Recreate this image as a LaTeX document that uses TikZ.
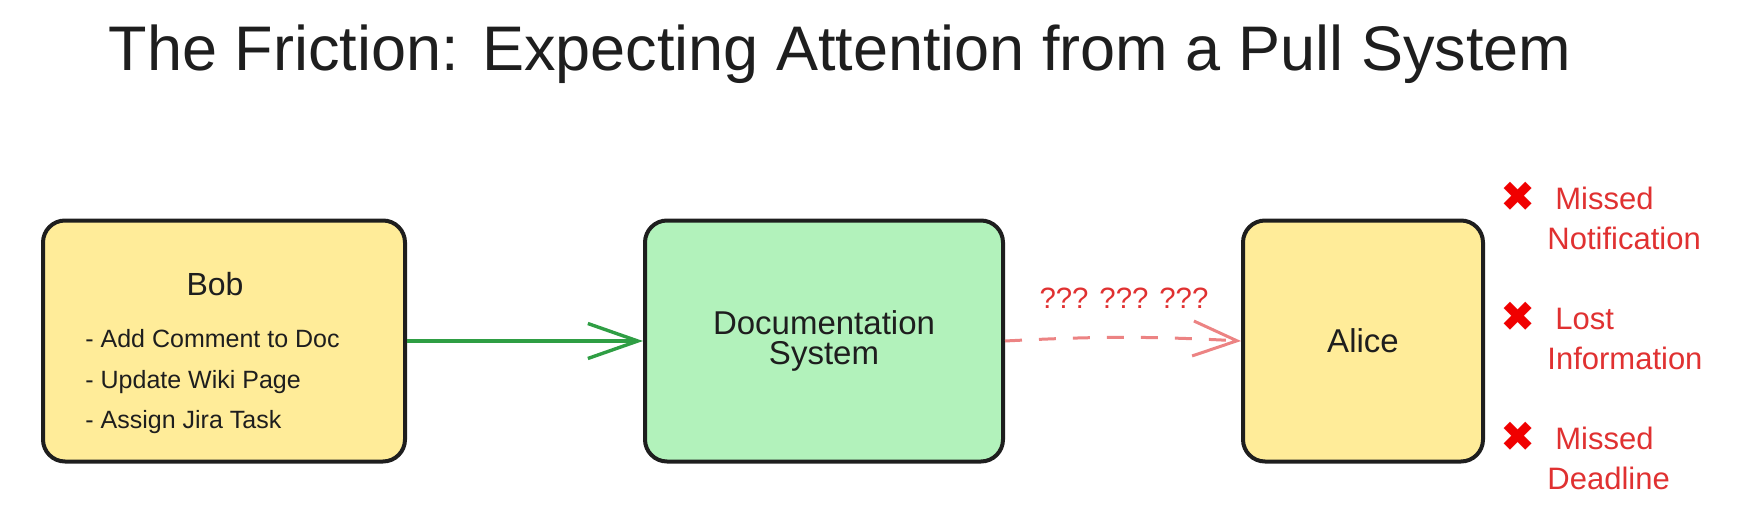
\documentclass[tikz,border=0pt]{standalone}
\usepackage{fontspec}
\setmainfont{Liberation Sans}
\newfontfamily\symbolfont{DejaVu Sans}
\usetikzlibrary{arrows.meta}
\definecolor{inkblack}{HTML}{1E1E1E}
\definecolor{noteyellow}{HTML}{FFEC99}
\definecolor{notegreen}{HTML}{B2F2BB}
\definecolor{pushgreen}{HTML}{2F9E44}
\definecolor{failred}{HTML}{E03131}
\definecolor{crossred}{HTML}{F00000}

\begin{document}
\begin{tikzpicture}[x=0.5pt, y=-0.5pt, inkblack,
  note/.style={draw=inkblack, line width=2pt, rounded corners=11pt, minimum height=120.5pt, align=center, font=\fontsize{16.5}{15}\selectfont},
  item/.style={anchor=base west, inner sep=0pt, font=\fontsize{12.5}{15}\selectfont},
  push/.style={-{Straight Barb[length=25pt, width=17.5pt]}, pushgreen, line width=1.7pt},
  pull/.style={-{Straight Barb[length=22pt, width=17.5pt]}, failred!60, line width=1.5pt, dash pattern=on 8.5pt off 8.5pt},
  fail/.style={failred, anchor=base west, inner sep=0pt, font=\fontsize{15.5}{19}\selectfont}]
  \useasboundingbox (0,0) rectangle (1763,520);
  \node[anchor=base, font=\fontsize{31.5}{36}\selectfont] (title) at (840,70) {The Friction: Expecting Attention from a Pull System};

  \node[note, fill=noteyellow, minimum width=181pt] (bob) at (224,341) {};
  \node[anchor=base, font=\fontsize{16}{18}\selectfont] (bobname) at (215,295) {Bob};
  \foreach \i/\t/\y in {1/Add Comment to Doc/347, 2/Update Wiki Page/388, 3/Assign Jira Task/428}
    \node[item] (bobitem\i) at (85,\y) {- \t};

  \node[note, fill=notegreen, minimum width=179pt] (doc) at (824,341) {Documentation\\System};
  \node[note, fill=noteyellow, minimum width=120pt] (alice) at (1363,341) {Alice};

  \draw[push] (bob.east) -- (doc.west);
  \draw[pull] (doc.east) to[bend left=3] (alice.west);
  \node[anchor=base, failred, font=\fontsize{14.7}{16}\selectfont] (lostmsg) at (1124,308) {??? ??? ???};

  \foreach \i/\y/\a/\b in {1/197/Missed/Notification, 2/317/Lost/Information, 3/437/Missed/Deadline} {
    \node[crossred, font=\symbolfont\fontsize{21}{21}\selectfont] (cross\i) at (1518,\y) {✖};
    \node[fail] (failtop\i) at (1555,\y+12) {\a};
    \node[fail] (failbot\i) at (1547,\y+52) {\b};
  }
\end{tikzpicture}
\end{document}
